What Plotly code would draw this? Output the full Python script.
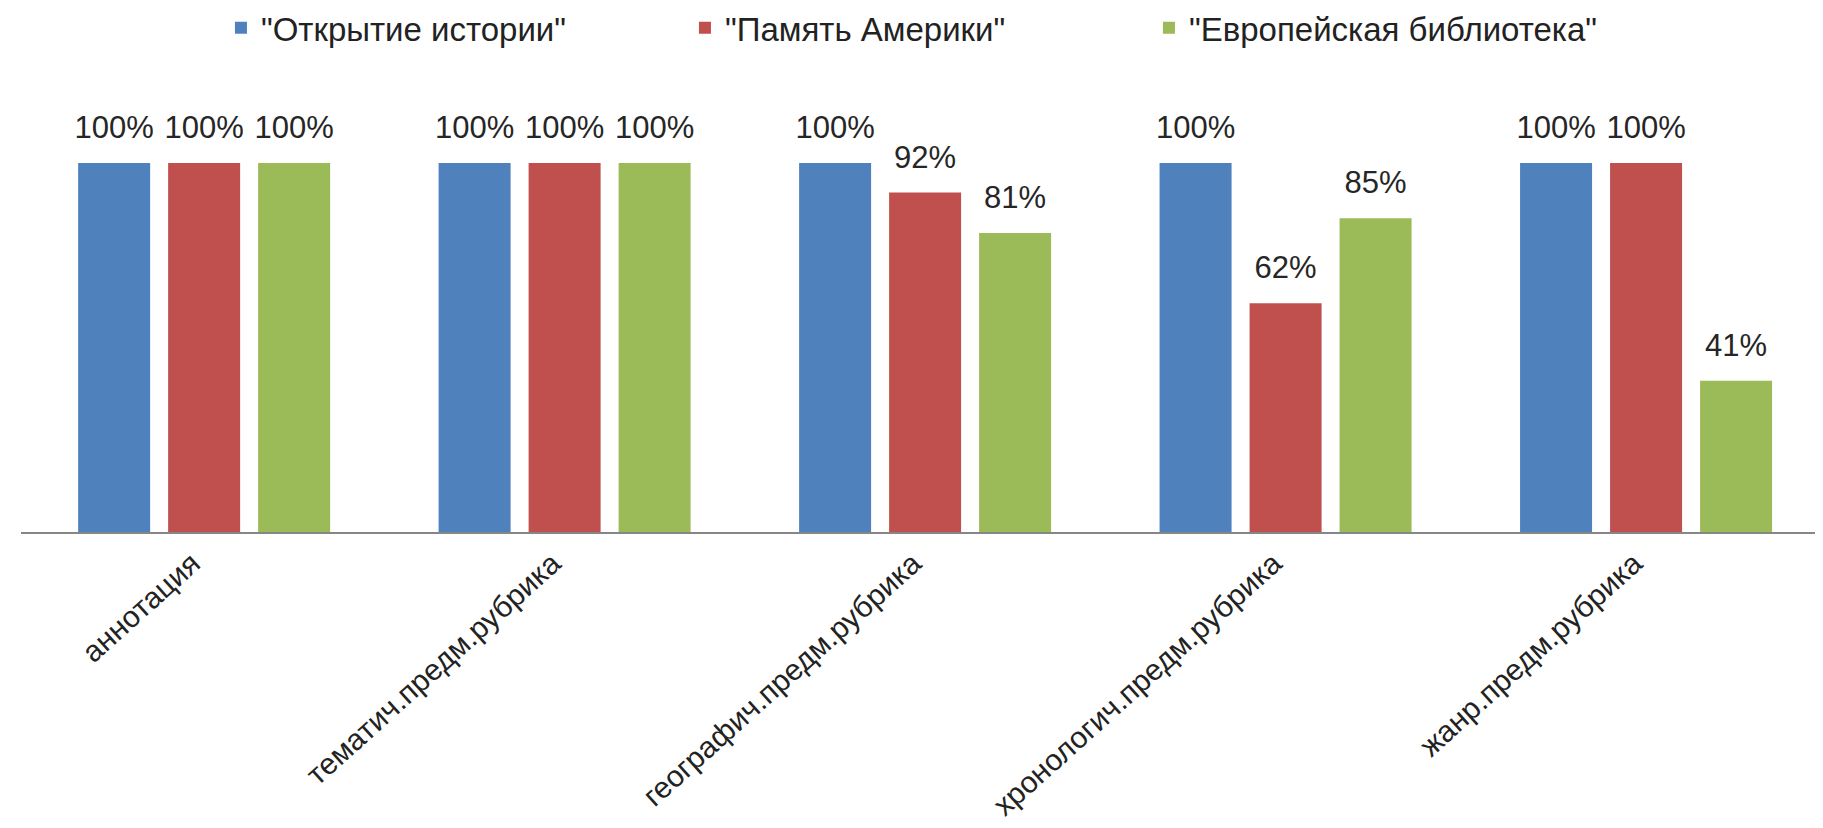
import plotly.graph_objects as go

categories = ["аннотация", "тематич.предм.рубрика", "географич.предм.рубрика",
              "хронологич.предм.рубрика", "жанр.предм.рубрика"]
series_names = ['"Открытие истории"', '"Память Америки"', '"Европейская библиотека"']
otkrytie = [100, 100, 100, 100, 100]
pamyat = [100, 100, 92, 62, 100]
evropa = [100, 100, 81, 85, 41]
colors = ["#4F81BD", "#C0504D", "#9BBB59"]

FONT = "Liberation Sans, Arial, sans-serif"

fig = go.Figure()
for i, (name, vals, col) in enumerate(zip(series_names, [otkrytie, pamyat, evropa], colors)):
    fig.add_trace(go.Bar(
        x=categories, y=vals, name=name,
        marker=dict(color=col, line=dict(width=0)),
        offsetgroup=str(i),
    ))
for i, (name, vals) in enumerate(zip(series_names, [otkrytie, pamyat, evropa])):
    fig.add_trace(go.Scatter(
        x=categories, y=vals, mode="markers+text", showlegend=False,
        marker=dict(size=26, opacity=0),
        text=[f"{v}%" for v in vals], textposition="top center",
        textfont=dict(family=FONT, size=31, color="#262626"),
        offsetgroup=str(i), cliponaxis=False, hoverinfo="skip",
    ))

fig.update_layout(
    width=1823, height=828,
    paper_bgcolor="white", plot_bgcolor="white",
    margin=dict(l=13, r=0, t=93, b=304, autoexpand=False),
    barmode="group", bargap=0.251, bargroupgap=0.2,
    scattermode="group", scattergap=0.251,
    showlegend=True,
    legend=dict(orientation="h", x=0.495, xanchor="center", y=1.17, yref="paper",
                yanchor="middle", font=dict(family=FONT, size=33, color="#222222"),
                entrywidth=419, entrywidthmode="pixels", traceorder="normal"),
    font=dict(family=FONT),
)
fig.update_xaxes(
    type="category", range=[-0.508, 4.513],
    showline=True, linecolor="#868686", linewidth=2,
    ticks="", tickangle=-42, ticklabelstandoff=0, ticklabelshift=-12,
    tickfont=dict(family=FONT, size=30, color="#222222"),
    showgrid=False, zeroline=False, automargin=False,
)
fig.update_yaxes(range=[0, 1.168 * 100], visible=False, showgrid=False, zeroline=False)

fig.write_html("out.html")
